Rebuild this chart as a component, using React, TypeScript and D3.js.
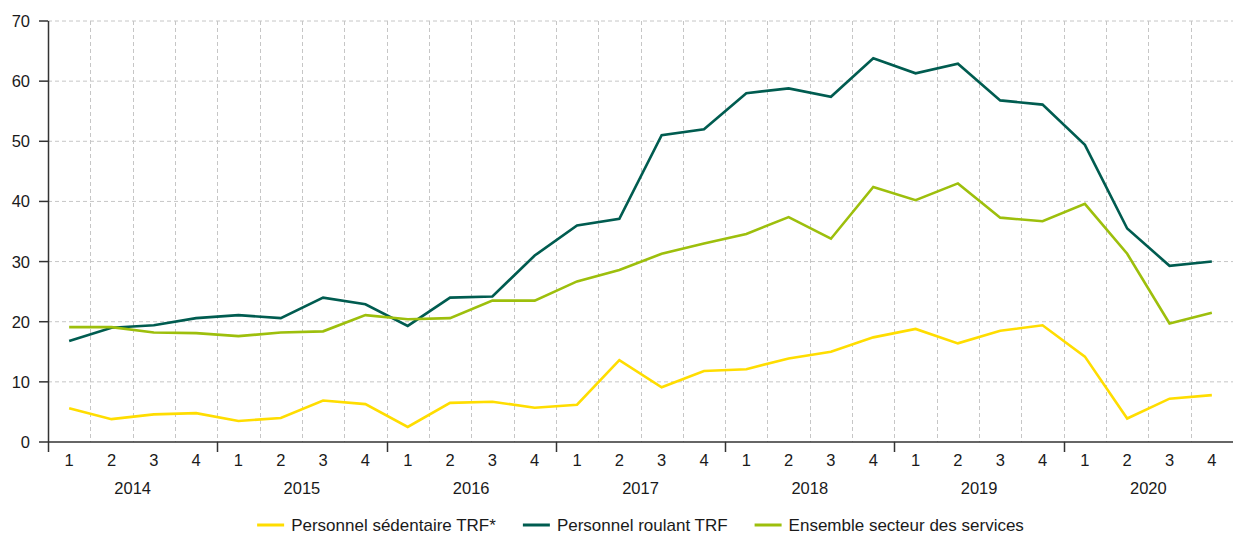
import { useRef, useEffect } from "react";
import * as d3 from "d3";

const years = ["2014", "2015", "2016", "2017", "2018", "2019", "2020"];
const quarters = ["1", "2", "3", "4"];

// Indices de pénurie (%), par trimestre 2014T1 -> 2020T4
const sedentaire = [
  5.6, 3.8, 4.6, 4.8, 3.5, 4.0, 6.9, 6.3, 2.5, 6.5, 6.7, 5.7, 6.2, 13.6,
  9.1, 11.8, 12.1, 13.9, 15.0, 17.4, 18.8, 16.4, 18.5, 19.4, 14.2, 3.9,
  7.2, 7.8,
];
const roulant = [
  16.8, 19.0, 19.4, 20.6, 21.1, 20.6, 24.0, 22.9, 19.3, 24.0, 24.2, 31.0,
  36.0, 37.1, 51.0, 52.0, 58.0, 58.8, 57.4, 63.8, 61.3, 62.9, 56.8, 56.1,
  49.4, 35.5, 29.3, 30.0,
];
const ensemble = [
  19.1, 19.1, 18.2, 18.1, 17.6, 18.2, 18.4, 21.1, 20.4, 20.6, 23.5, 23.5,
  26.7, 28.6, 31.3, 33.0, 34.6, 37.4, 33.8, 42.4, 40.2, 43.0, 37.3, 36.7,
  39.6, 31.3, 19.7, 21.5,
];
const yTicks = [0, 10, 20, 30, 40, 50, 60, 70];

const SERIES = [
  { label: "Personnel sédentaire TRF*", color: "#ffdd00", values: sedentaire },
  { label: "Personnel roulant TRF", color: "#005c50", values: roulant },
  { label: "Ensemble secteur des services", color: "#9dbf0c", values: ensemble },
];

const FONT = "'Liberation Sans', Arial, Helvetica, sans-serif";

export default function App() {
  const svgRef = useRef<SVGSVGElement>(null);

  useEffect(() => {
    if (!svgRef.current) return;
    const width = 1234;
    const height = 536;
    const margin = { top: 21, right: 1, bottom: 94, left: 48 };

    const svg = d3.select(svgRef.current);
    svg.selectAll("*").remove();
    svg.attr("width", width).attr("height", height);

    const periods = years.flatMap((y) => quarters.map((q) => `${y}-${q}`));

    const x = d3
      .scaleBand<string>()
      .domain(periods)
      .range([margin.left, width - margin.right])
      .padding(0);
    const bw = x.bandwidth();
    const cx = (i: number) => (x(periods[i]) ?? 0) + bw / 2;

    const y = d3
      .scaleLinear()
      .domain([0, 70])
      .range([height - margin.bottom, margin.top]);

    const g = svg.append("g");
    const x0 = margin.left;
    const x1 = width - margin.right;
    const yBottom = y(0);

    // grille horizontale
    yTicks
      .filter((t) => t > 0)
      .forEach((t) => {
        g.append("line")
          .attr("x1", x0)
          .attr("x2", x1)
          .attr("y1", y(t))
          .attr("y2", y(t))
          .attr("stroke", "#c6c6c6")
          .attr("stroke-width", 1)
          .attr("stroke-dasharray", "4,3");
      });

    // grille verticale, entre chaque trimestre
    periods.slice(1).forEach((p) => {
      const xv = Math.round(x(p) ?? 0) + 0.5;
      g.append("line")
        .attr("x1", xv)
        .attr("x2", xv)
        .attr("y1", y(70))
        .attr("y2", yBottom)
        .attr("stroke", "#c6c6c6")
        .attr("stroke-width", 1)
        .attr("stroke-dasharray", "4,3");
    });

    // axe y
    g.append("line")
      .attr("x1", x0 + 0.5)
      .attr("x2", x0 + 0.5)
      .attr("y1", y(70))
      .attr("y2", yBottom + 10)
      .attr("stroke", "#333")
      .attr("stroke-width", 1.5);

    yTicks.forEach((t) => {
      g.append("line")
        .attr("x1", x0 - 9)
        .attr("x2", x0)
        .attr("y1", y(t))
        .attr("y2", y(t))
        .attr("stroke", "#333")
        .attr("stroke-width", 1.5);
      g.append("text")
        .attr("x", x0 - 18)
        .attr("y", y(t))
        .attr("dy", "0.36em")
        .attr("text-anchor", "end")
        .attr("font-family", FONT)
        .attr("font-size", 16.5)
        .attr("fill", "#1a1a1a")
        .text(t);
    });

    // axe x
    g.append("line")
      .attr("x1", x0)
      .attr("x2", x1)
      .attr("y1", yBottom)
      .attr("y2", yBottom)
      .attr("stroke", "#333")
      .attr("stroke-width", 1.5);

    years.forEach((yr, k) => {
      if (k > 0) {
        const xv = Math.round(x(`${yr}-1`) ?? 0) + 0.5;
        g.append("line")
          .attr("x1", xv)
          .attr("x2", xv)
          .attr("y1", yBottom)
          .attr("y2", yBottom + 10)
          .attr("stroke", "#333")
          .attr("stroke-width", 1.5);
      }
      const start = x(`${yr}-1`) ?? 0;
      g.append("text")
        .attr("x", start + bw * 2)
        .attr("y", 494)
        .attr("text-anchor", "middle")
        .attr("font-family", FONT)
        .attr("font-size", 16.5)
        .attr("fill", "#1a1a1a")
        .text(yr);
    });

    periods.forEach((p, i) => {
      g.append("text")
        .attr("x", cx(i))
        .attr("y", 466)
        .attr("text-anchor", "middle")
        .attr("font-family", FONT)
        .attr("font-size", 16.5)
        .attr("fill", "#1a1a1a")
        .text(p.split("-")[1]);
    });

    // courbes
    const line = d3
      .line<number>()
      .x((_, i) => cx(i))
      .y((d) => y(d));

    SERIES.forEach((s) => {
      g.append("path")
        .datum(s.values)
        .attr("d", line)
        .attr("fill", "none")
        .attr("stroke", s.color)
        .attr("stroke-width", 2.6)
        .attr("stroke-linejoin", "miter");
    });

    // légende centrée
    const legend = svg.append("g");
    let offset = 0;
    SERIES.forEach((s, i) => {
      const item = legend.append("g").attr("transform", `translate(${offset},0)`);
      item
        .append("line")
        .attr("x1", 0)
        .attr("x2", 27)
        .attr("y1", 0)
        .attr("y2", 0)
        .attr("stroke", s.color)
        .attr("stroke-width", 3);
      const txt = item
        .append("text")
        .attr("x", 34)
        .attr("y", 0)
        .attr("dy", "0.36em")
        .attr("font-family", FONT)
        .attr("font-size", 17)
        .attr("fill", "#1a1a1a")
        .text(s.label);
      const w = (txt.node() as SVGTextElement).getComputedTextLength();
      offset += 34 + w + (i < SERIES.length - 1 ? 27 : 0);
    });
    const center = (x0 + x1) / 2;
    legend.attr("transform", `translate(${center - offset / 2},525)`);
  }, []);

  return (
    <div style={{ position: "fixed", left: 0, top: 0 }}>
      <svg ref={svgRef} style={{ display: "block", background: "#fff" }} />
    </div>
  );
}
